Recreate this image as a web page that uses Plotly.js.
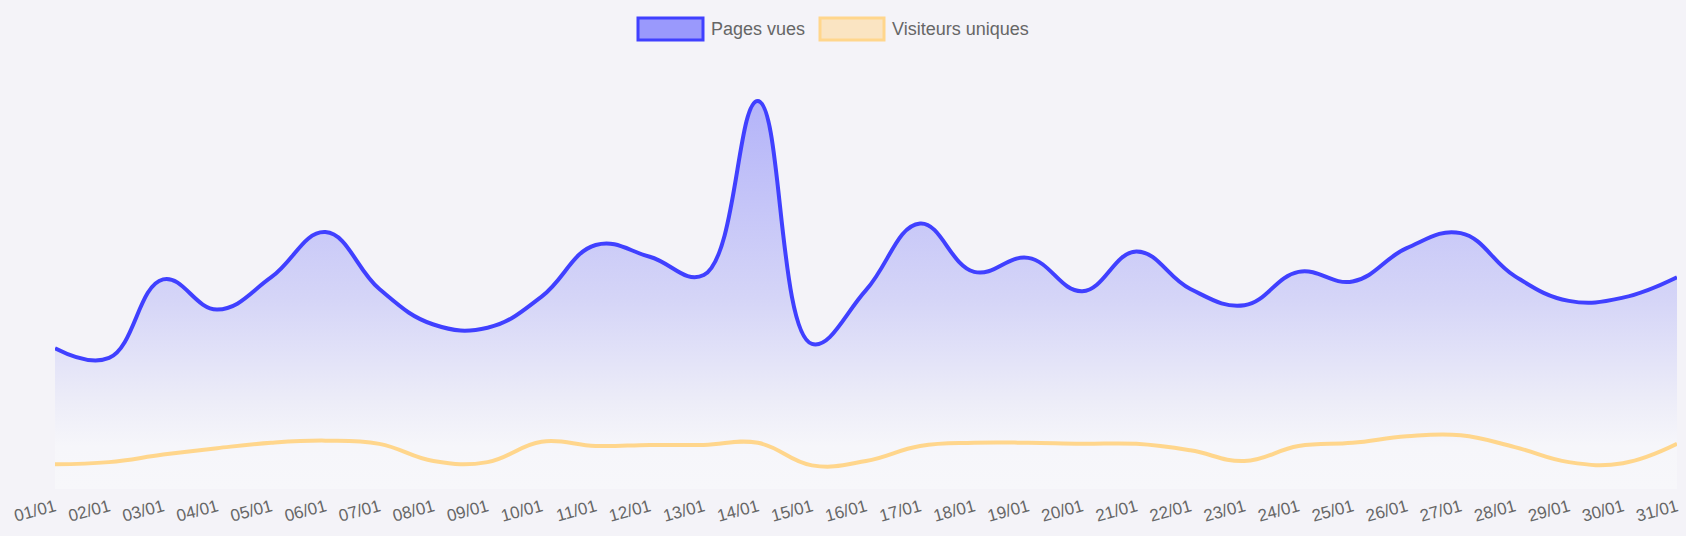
<!DOCTYPE html>
<html>
<head>
<meta charset="utf-8">
<script src="https://cdn.plot.ly/plotly-3.0.1.min.js"></script>
<style>
  html, body { margin: 0; padding: 0; background: #f4f3f8; }
  #chart { width: 1686px; height: 536px; }
</style>
</head>
<body>
<div id="chart"></div>
<script>
const labels = ['01/01','02/01','03/01','04/01','05/01','06/01','07/01','08/01','09/01','10/01',
  '11/01','12/01','13/01','14/01','15/01','16/01','17/01','18/01','19/01','20/01',
  '21/01','22/01','23/01','24/01','25/01','26/01','27/01','28/01','29/01','30/01','31/01'];

const pagesVues = [655, 610, 975, 835, 985, 1195, 930, 765, 750, 895,
  1135, 1080, 995, 1805, 675, 925, 1235, 1010, 1075, 920,
  1105, 930, 855, 1010, 965, 1120, 1190, 990, 875, 890, 985];

const visiteursUniques = [115, 125, 160, 190, 215, 225, 210, 130, 125, 220,
  200, 205, 205, 215, 110, 130, 200, 215, 215, 210,
  210, 180, 130, 200, 215, 245, 250, 195, 125, 120, 210];

const seriesNames = ['Pages vues', 'Visiteurs uniques'];

const blue = '#4040ff';
const yellow = '#ffd68c';

const traces = [
  {
    x: labels, y: pagesVues, name: seriesNames[0], type: 'scatter', mode: 'lines',
    line: { color: blue, width: 4, shape: 'spline', smoothing: 1.2 },
    fill: 'tozeroy',
    fillgradient: {
      type: 'vertical', start: 0, stop: 2000,
      colorscale: [
        [0, '#f7f7fa'],
        [0.1, '#f6f6fa'],
        [0.2, '#ededf8'],
        [0.3, '#e3e3f8'],
        [0.44, '#d5d5f7'],
        [0.9, '#b4b4f9'],
        [1, '#afaff9']
      ]
    },
    hoverinfo: 'x+y'
  },
  {
    x: labels, y: visiteursUniques, name: seriesNames[1], type: 'scatter', mode: 'lines',
    line: { color: yellow, width: 4, shape: 'spline', smoothing: 1.2 },
    hoverinfo: 'x+y'
  }
];

const L = 55, R = 1677, T = 59, B = 489;
function px(x) { return (x - L) / (R - L); }
function py(y) { return (B - y) / (B - T); }

const layout = {
  width: 1686, height: 536,
  paper_bgcolor: '#f4f3f8', plot_bgcolor: '#f4f3f8',
  margin: { l: L, r: 1686 - R, t: T, b: 536 - B, pad: 0 },
  showlegend: false,
  font: { family: 'Liberation Sans, Arial, sans-serif', color: '#666666' },
  xaxis: {
    type: 'category', range: [0, labels.length - 1],
    showgrid: false, zeroline: false, showline: false, ticks: '',
    tickangle: -15, tickfont: { size: 17, color: '#666666' },
    ticklabelstandoff: 4,
    fixedrange: true
  },
  yaxis: {
    range: [0, 2000], visible: false, showgrid: false, zeroline: false, fixedrange: true
  },
  shapes: [
    { type: 'rect', xref: 'paper', yref: 'paper', x0: px(638), x1: px(703), y0: py(40), y1: py(18),
      fillcolor: 'rgba(64,64,255,0.5)', line: { color: blue, width: 3 } },
    { type: 'rect', xref: 'paper', yref: 'paper', x0: px(820), x1: px(884), y0: py(40), y1: py(18),
      fillcolor: 'rgba(255,214,140,0.5)', line: { color: yellow, width: 3 } }
  ],
  annotations: [
    { xref: 'paper', yref: 'paper', x: px(709), y: py(29), xanchor: 'left', yanchor: 'middle',
      text: seriesNames[0], showarrow: false, font: { size: 18, color: '#666666' } },
    { xref: 'paper', yref: 'paper', x: px(890), y: py(29), xanchor: 'left', yanchor: 'middle',
      text: seriesNames[1], showarrow: false, font: { size: 18, color: '#666666' } }
  ]
};

Plotly.newPlot('chart', traces, layout, { displayModeBar: false, staticPlot: false });
</script>
</body>
</html>
